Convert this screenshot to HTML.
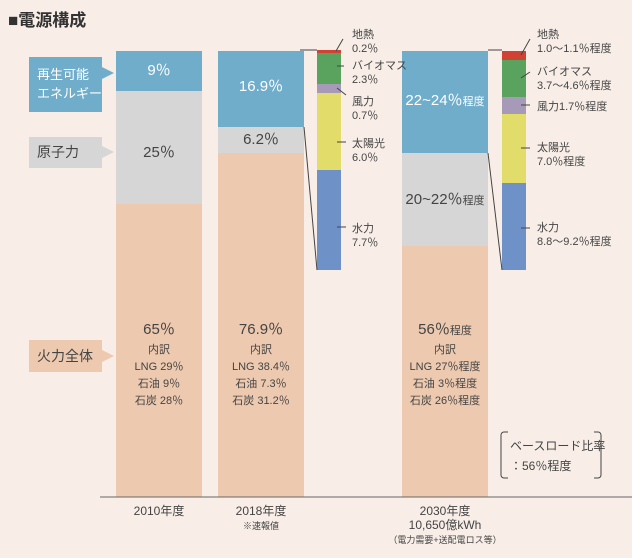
<!DOCTYPE html><html><head><meta charset="utf-8"><style>
body{margin:0;width:632px;height:558px;background:#f8eee7;position:relative;overflow:hidden;font-family:"Liberation Sans","Noto Sans CJK JP",sans-serif;color:#444}
div{position:absolute}
.c{text-align:center}
.t{font-size:11px;line-height:14px;color:#444}
</style></head><body>
<div style="left:8px;top:6px;font-size:17px;font-weight:bold;color:#333">■電源構成</div>
<!-- left labels -->
<div style="left:29px;top:57px;width:73px;height:55px;background:#6fadcb;color:#fff;font-size:13px;line-height:19px;padding:8px 0 0 8px;box-sizing:border-box">再生可能<br>エネルギー</div>
<div style="left:102px;top:67px;width:0;height:0;border-top:6px solid transparent;border-bottom:6px solid transparent;border-left:12px solid #6fadcb"></div>
<div style="left:29px;top:137px;width:73px;height:31px;background:#d5d6d5;font-size:14px;line-height:31px;padding-left:8px;box-sizing:border-box">原子力</div>
<div style="left:102px;top:146px;border-top:6px solid transparent;border-bottom:6px solid transparent;border-left:12px solid #d5d6d5"></div>
<div style="left:29px;top:340px;width:73px;height:32px;background:#edc9af;font-size:14px;line-height:32px;padding-left:8px;box-sizing:border-box">火力全体</div>
<div style="left:102px;top:350px;border-top:6px solid transparent;border-bottom:6px solid transparent;border-left:12px solid #edc9af"></div>
<!-- bar 2010 -->
<div style="left:116px;top:51px;width:86px;height:40px;background:#6fadcb;color:#fff;font-size:15px;line-height:40px" class="c">9％</div>
<div style="left:116px;top:91px;width:86px;height:113px;background:#d5d6d5;font-size:15px;line-height:124px" class="c">25％</div>
<div style="left:116px;top:204px;width:86px;height:293px;background:#edc9af" class="c"><div style="left:0;width:86px;top:114px;font-size:15px">65％</div><div class="t" style="left:0;width:86px;top:138px;font-size:11px;line-height:17px">内訳<br>LNG 29％<br>石油 9％<br>石炭 28％</div></div>
<!-- bar 2018 -->
<div style="left:218px;top:51px;width:86px;height:76px;background:#6fadcb;color:#fff;font-size:15px;line-height:72px" class="c">16.9％</div>
<div style="left:218px;top:127px;width:86px;height:26px;background:#d5d6d5;font-size:15px;line-height:26px" class="c">6.2％</div>
<div style="left:218px;top:153px;width:86px;height:344px;background:#edc9af"><div class="c" style="left:0;width:86px;top:165px;font-size:15px">76.9％</div><div class="t c" style="left:0;width:86px;top:189px;line-height:17px">内訳<br>LNG 38.4％<br>石油 7.3％<br>石炭 31.2％</div></div>
<!-- small bar 1 -->
<div style="left:317px;top:50px;width:24px;height:3px;background:#cf4234"></div>
<div style="left:317px;top:53px;width:24px;height:31px;background:#5aa35e"></div>
<div style="left:317px;top:84px;width:24px;height:9px;background:#a69ab8"></div>
<div style="left:317px;top:93px;width:24px;height:77px;background:#e2dc6a"></div>
<div style="left:317px;top:170px;width:24px;height:100px;background:#6e92c8"></div>
<!-- bar 2030 -->
<div style="left:402px;top:51px;width:86px;height:102px;background:#6fadcb;color:#fff;font-size:15px;line-height:100px" class="c">22~24％<span style="font-size:11px">程度</span></div>
<div style="left:402px;top:153px;width:86px;height:93px;background:#d5d6d5;font-size:15px;line-height:93px" class="c">20~22％<span style="font-size:11px">程度</span></div>
<div style="left:402px;top:246px;width:86px;height:251px;background:#edc9af"><div class="c" style="left:0;width:86px;top:72px;font-size:15px">56％<span style="font-size:11px">程度</span></div><div class="t c" style="left:0;width:86px;top:96px;line-height:17px">内訳<br>LNG 27％程度<br>石油 3％程度<br>石炭 26％程度</div></div>
<!-- small bar 2 -->
<div style="left:502px;top:51px;width:24px;height:9px;background:#cf4234"></div>
<div style="left:502px;top:60px;width:24px;height:37px;background:#5aa35e"></div>
<div style="left:502px;top:97px;width:24px;height:17px;background:#a69ab8"></div>
<div style="left:502px;top:114px;width:24px;height:69px;background:#e2dc6a"></div>
<div style="left:502px;top:183px;width:24px;height:87px;background:#6e92c8"></div>
<svg style="position:absolute;left:0;top:0" width="632" height="558">
<g stroke="#444" stroke-width="1" fill="none">
<line x1="300" y1="50" x2="317" y2="50"/><line x1="304" y1="127" x2="317" y2="270"/>
<line x1="488" y1="50" x2="502" y2="50"/><line x1="488" y1="153" x2="502" y2="270"/>
<line x1="100" y1="497" x2="632" y2="497" stroke="#666"/>
<line x1="336" y1="51" x2="343" y2="39"/><line x1="337" y1="66" x2="344" y2="66"/><line x1="337" y1="88" x2="346" y2="95"/><line x1="337" y1="142" x2="346" y2="142"/><line x1="337" y1="227" x2="346" y2="227"/>
<line x1="521" y1="55" x2="530" y2="39"/><line x1="521" y1="78" x2="530" y2="72"/><line x1="521" y1="105" x2="530" y2="105"/><line x1="521" y1="148" x2="530" y2="148"/><line x1="521" y1="228" x2="530" y2="228"/>
<path d="M508 432 h-4 a3 3 0 0 0 -3 3 v40 a3 3 0 0 0 3 3 h4"/><path d="M594 432 h4 a3 3 0 0 1 3 3 v40 a3 3 0 0 1 -3 3 h-4"/>
</g></svg>
<div class="t" style="left:352px;top:28px">地熱<br>0.2％</div>
<div class="t" style="left:352px;top:59px">バイオマス<br>2.3％</div>
<div class="t" style="left:352px;top:95px">風力<br>0.7％</div>
<div class="t" style="left:352px;top:137px">太陽光<br>6.0％</div>
<div class="t" style="left:352px;top:222px">水力<br>7.7％</div>
<div class="t" style="left:537px;top:28px">地熱<br>1.0～1.1％程度</div>
<div class="t" style="left:537px;top:65px">バイオマス<br>3.7～4.6％程度</div>
<div class="t" style="left:537px;top:100px">風力1.7％程度</div>
<div class="t" style="left:537px;top:141px">太陽光<br>7.0％程度</div>
<div class="t" style="left:537px;top:221px">水力<br>8.8～9.2％程度</div>
<div style="left:510px;top:436px;font-size:12px;line-height:20px">ベースロード比率<br>：56％程度</div>
<div class="t c" style="left:116px;top:504px;width:86px;font-size:12px">2010年度</div>
<div class="t c" style="left:208px;top:504px;width:106px;font-size:12px">2018年度<br><span style="font-size:9px">※速報値</span></div>
<div class="t c" style="left:375px;top:504px;width:140px;font-size:12px">2030年度<br>10,650億kWh<br><span style="font-size:9px">（電力需要+送配電ロス等）</span></div>
</body></html>
